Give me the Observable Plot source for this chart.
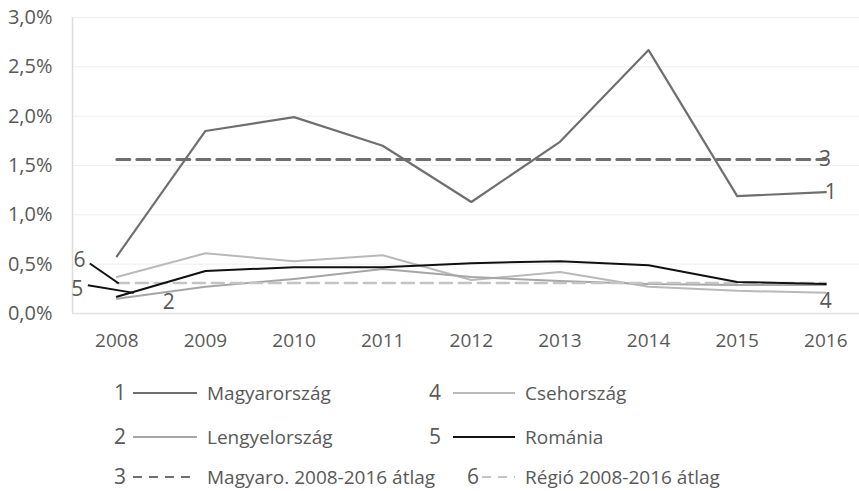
<!DOCTYPE html>
<html>
<head>
<meta charset="utf-8">
<script src="https://cdn.jsdelivr.net/npm/d3@7"></script>
<script src="https://cdn.jsdelivr.net/npm/@observablehq/plot@0.6"></script>
<style>
  html, body { margin: 0; padding: 0; background: #fff; }
  #wrap { width: 859px; height: 491px; position: relative; font-family: "Open Sans", sans-serif; color: #595959; }
  #legend { display: block; }
</style>
</head>
<body>
<div id="wrap"></div>
<script>
// ---- data ----
const years = [2008, 2009, 2010, 2011, 2012, 2013, 2014, 2015, 2016];
const magyarorszag = [0.58, 1.85, 1.99, 1.70, 1.13, 1.74, 2.67, 1.19, 1.23];
const lengyelorszag = [0.15, 0.27, 0.35, 0.45, 0.37, 0.33, 0.30, 0.29, 0.29];
const csehorszag = [0.37, 0.61, 0.53, 0.59, 0.34, 0.42, 0.27, 0.23, 0.21];
const romania = [0.17, 0.43, 0.47, 0.47, 0.51, 0.53, 0.49, 0.32, 0.30];
const magyarAtlag = 1.56;
const regioAtlag = 0.31;
const yTicks = [0, 0.5, 1, 1.5, 2, 2.5, 3];
const seriesNames = ["Magyarország", "Lengyelország", "Magyaro. 2008-2016 átlag", "Csehország", "Románia", "Régió 2008-2016 átlag"];
const seriesNums = ["1", "2", "3", "4", "5", "6"];

// annotation labels (data units: year, percent)
const numLabels = [
  {t: "1", x: 2016.0, y: 1.23, anchor: "start"},
  {t: "3", x: 2015.99, y: 1.56, anchor: "middle"},
  {t: "4", x: 2016.0, y: 0.12, anchor: "middle"},
  {t: "6", x: 2007.58, y: 0.54, anchor: "middle"},
  {t: "5", x: 2007.553, y: 0.243, anchor: "middle"},
  {t: "2", x: 2008.585, y: 0.118, anchor: "middle"}
];
const leaders = [
  {x1: 2007.696, y1: 0.507, x2: 2008.023, y2: 0.304},
  {x1: 2007.673, y1: 0.287, x2: 2008.193, y2: 0.209}
];

const xDomain = [2007.5, 2016.38];

const colors = {
  magyar: "#6f6f6f",
  lengyel: "#a6a6a6",
  cseh: "#b9b9b9",
  romania: "#111111",
  magyarAvg: "#6f6f6f",
  regioAvg: "#c4c4c4"
};

const toRows = (vals) => years.map((yr, i) => ({year: yr, value: vals[i]}));
const avgRows = (v) => [{year: years[0], value: v}, {year: years[years.length - 1], value: v}];

const fmt = d => d.toFixed(1).replace(".", ",") + "%";

const chart = Plot.plot({
  width: 859,
  height: 360,
  marginTop: 17,
  marginBottom: 47,
  marginLeft: 72,
  marginRight: 0,
  style: {fontFamily: "Open Sans, sans-serif", fontSize: "19px", color: "#595959", background: "white", overflow: "visible"},
  x: {domain: xDomain, label: null},
  y: {domain: [0, 3], label: null},
  marks: [
    Plot.gridY(yTicks, {stroke: "#eeeeee", strokeOpacity: 1, strokeWidth: 1}),
    Plot.ruleY([0], {stroke: "#e2e2e2", strokeWidth: 1.5}),
    Plot.ruleX([xDomain[0]], {y1: 0, y2: 3, stroke: "#dcdcdc", strokeWidth: 1.5}),
    Plot.axisX(years, {tickFormat: d => String(d), tickSize: 0, tickPadding: 20, fontSize: 19, label: null}),
    Plot.axisY(yTicks, {tickFormat: fmt, tickSize: 0, tickPadding: 20, fontSize: 20, label: null}),
    Plot.line(toRows(csehorszag), {x: "year", y: "value", stroke: colors.cseh, strokeWidth: 2}),
    Plot.line(toRows(lengyelorszag), {x: "year", y: "value", stroke: colors.lengyel, strokeWidth: 2}),
    Plot.line(avgRows(regioAtlag), {x: "year", y: "value", stroke: colors.regioAvg, strokeWidth: 2.5, strokeDasharray: "12,7"}),
    Plot.line(toRows(romania), {x: "year", y: "value", stroke: colors.romania, strokeWidth: 2}),
    Plot.line(avgRows(magyarAtlag), {x: "year", y: "value", stroke: colors.magyarAvg, strokeWidth: 3, strokeDasharray: "13,7"}),
    Plot.line(toRows(magyarorszag), {x: "year", y: "value", stroke: colors.magyar, strokeWidth: 2.2}),
    Plot.link(leaders, {x1: "x1", y1: "y1", x2: "x2", y2: "y2", stroke: "#111", strokeWidth: 2}),
    Plot.text(numLabels.filter(d => d.anchor === "start"), {x: "x", y: "y", text: "t", textAnchor: "start", dx: -1, fontSize: 21, fill: "#595959"}),
    Plot.text(numLabels.filter(d => d.anchor === "middle"), {x: "x", y: "y", text: "t", textAnchor: "middle", fontSize: 21, fill: "#595959"})
  ]
});
document.getElementById("wrap").appendChild(chart);

// ---- legend (below the chart) ----
const legendItems = [
  {num: seriesNums[0], name: seriesNames[0], color: colors.magyar, dash: null, col: 0, row: 0},
  {num: seriesNums[1], name: seriesNames[1], color: colors.lengyel, dash: null, col: 0, row: 1},
  {num: seriesNums[2], name: seriesNames[2], color: colors.magyarAvg, dash: "9,7", col: 0, row: 2},
  {num: seriesNums[3], name: seriesNames[3], color: colors.cseh, dash: null, col: 1, row: 0},
  {num: seriesNums[4], name: seriesNames[4], color: colors.romania, dash: null, col: 1, row: 1},
  {num: seriesNums[5], name: seriesNames[5], color: colors.regioAvg, dash: "9,7", col: 1, row: 2}
];
const rowY = [33, 77, 117];
const cols = [
  {numX: 120, lineX1: 133, lineX2: 197, textX: 207},
  {numX: 435, lineX1: 453, lineX2: 515, textX: 525}
];
const svg = d3.select("#wrap").append("svg")
  .attr("id", "legend")
  .attr("width", 859).attr("height", 131)
  .style("font-family", "Open Sans, sans-serif");
legendItems.forEach(it => {
  const c = cols[it.col];
  const y = rowY[it.row];
  let numX = c.numX, lx1 = c.lineX1;
  if (it.num === "6") { numX = 473; lx1 = 482; }
  svg.append("text").attr("x", numX).attr("y", y).attr("dy", "0.35em")
    .attr("text-anchor", "middle").attr("font-size", 21).attr("fill", "#595959").text(it.num);
  const ln = svg.append("line").attr("x1", lx1).attr("x2", c.lineX2).attr("y1", y).attr("y2", y)
    .attr("stroke", it.color).attr("stroke-width", 2);
  if (it.dash) ln.attr("stroke-dasharray", it.dash);
  svg.append("text").attr("x", c.textX).attr("y", y).attr("dy", "0.35em")
    .attr("font-size", 19).attr("fill", "#595959").text(it.name);
});
</script>
</body>
</html>
